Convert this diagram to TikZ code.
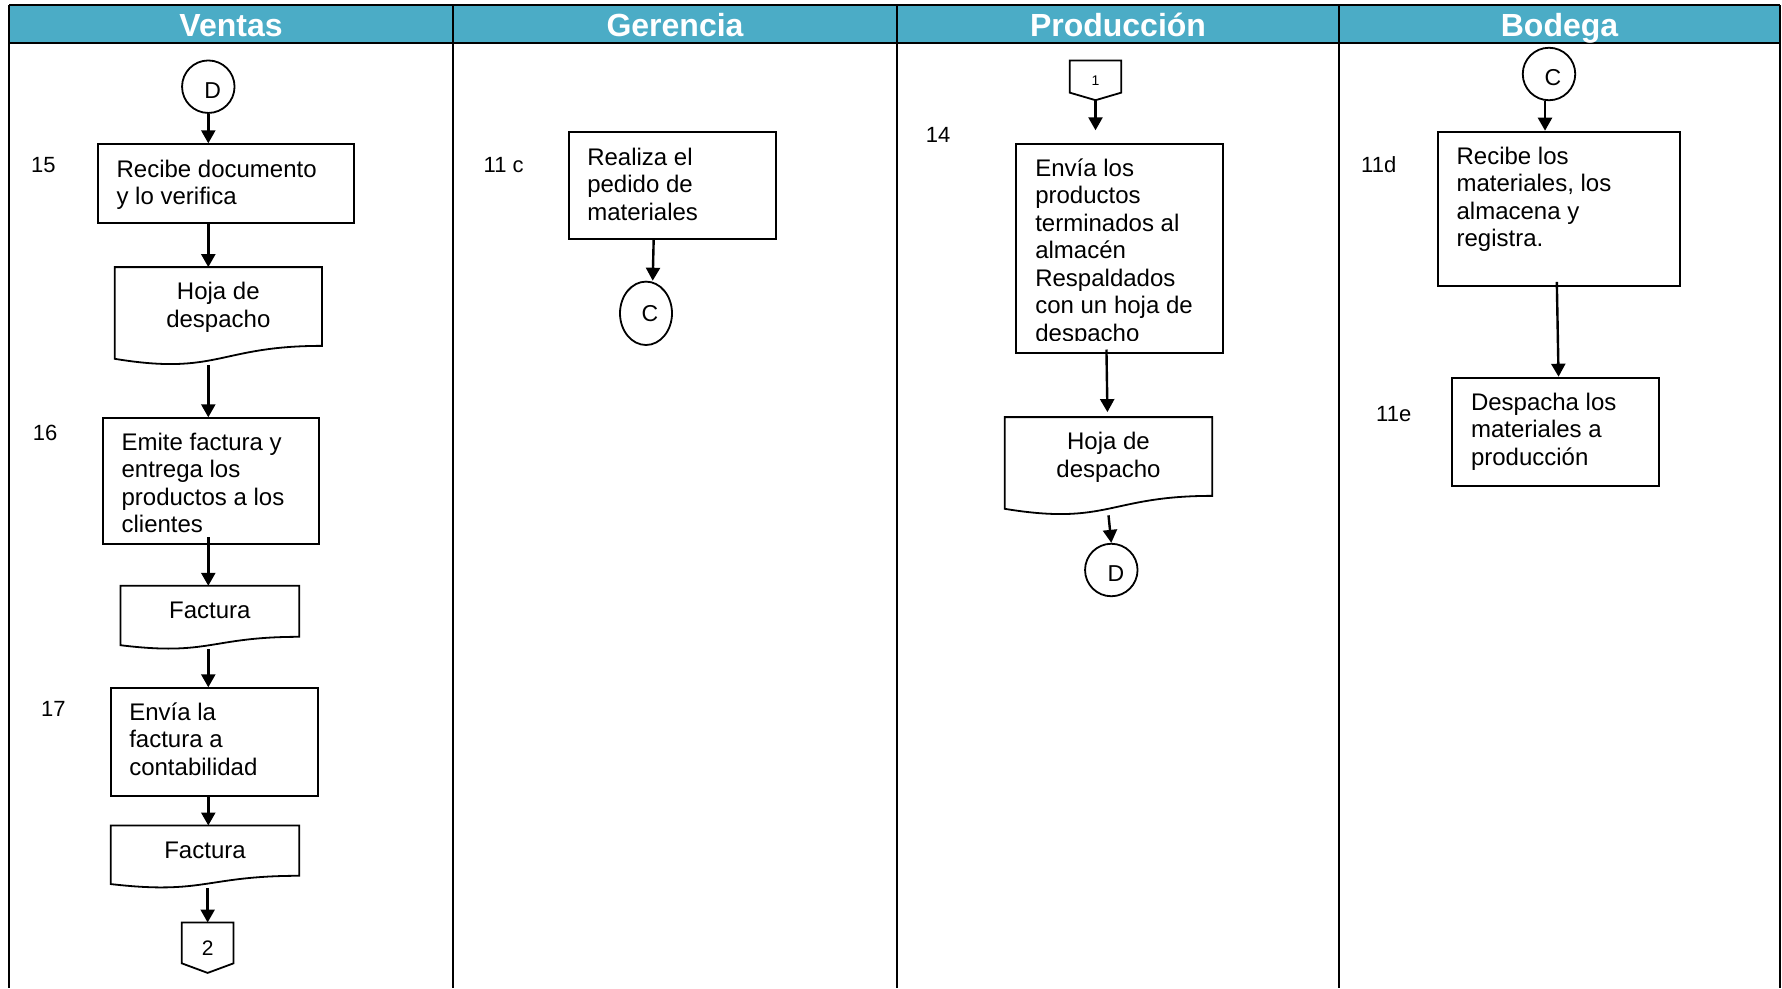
\documentclass[tikz,border=0pt]{standalone}
\usepackage{fontspec}
\setmainfont{Liberation Sans}
\usetikzlibrary{arrows.meta,shapes.geometric,calc}

\definecolor{headteal}{RGB}{75,172,198}

% type sizes (1pt = 1 output pixel)
\newcommand\txtbody{\fontsize{24}{27.5}\selectfont}
\newcommand\txtlabel{\fontsize{22}{25}\selectfont}
\newcommand\txthead{\fontsize{32}{36}\selectfont\bfseries}
\newcommand\txtconn{\fontsize{23}{26}\selectfont}

% multi-line text whose baseline is the first line
\newcommand\lefttab[1]{\begin{tabular}[t]{@{}l@{}}#1\end{tabular}}
\newcommand\centtab[1]{\begin{tabular}[t]{@{}c@{}}#1\end{tabular}}

% flowchart "document" symbol drawn round an empty node
\newcommand\docoutline[1]{%
  \draw[shapeline] let \p1=(#1.south west), \p2=(#1.north east) in
    (\x1,\y2) -- (\x2,\y2) -- (\x2,{0.198*\y2+0.802*\y1})
    .. controls ({0.5*\x1+0.5*\x2},{0.198*\y2+0.802*\y1})
            and ({0.5*\x1+0.5*\x2},{1.1075*\y1-0.1075*\y2}) ..
    (\x1,{0.066*\y2+0.934*\y1}) -- cycle;}

% off-page connector (pentagon pointing down)
\newcommand\offpageoutline[1]{%
  \draw[shapeline] let \p1=(#1.south west), \p2=(#1.north east) in
    (\x1,\y2) -- (\x2,\y2) -- (\x2,{0.19*\y2+0.81*\y1})
    -- ({0.5*\x1+0.5*\x2},\y1) -- (\x1,{0.19*\y2+0.81*\y1}) -- cycle;}

\begin{document}
\begin{tikzpicture}[x=1pt,y=-1pt,
  lane/.style={line width=2.3pt,black},
  shapeline/.style={draw=black,line width=1.8pt},
  procbox/.style={shapeline,rectangle,inner sep=0pt,anchor=north west},
  docnode/.style={rectangle,inner sep=0pt},
  offnode/.style={rectangle,inner sep=0pt},
  conn/.style={shapeline,circle,inner sep=0pt,minimum size=52.5pt,font=\txtconn,
               text height=23pt,text depth=0pt},
  arr/.style={line width=2.4pt,-{Triangle[length=13pt,width=14pt]}},
  boxtext/.style={inner sep=0pt,anchor=base west,font=\txtbody},
  doctext/.style={inner sep=0pt,anchor=base,font=\txtbody},
  steplabel/.style={inner sep=0pt,anchor=base west,font=\txtlabel},
  headtext/.style={inner sep=0pt,anchor=base,font=\txthead,text=white}]

\useasboundingbox (0,0) rectangle (1782,988);

% ---------- swimlanes ----------
\fill[headteal] (9,5) rectangle (1780,43);
\draw[lane] (9,5) -- (1780,5);
\draw[lane] (9,43) -- (1780,43);
\foreach \lx in {9,453,897,1339,1780} \draw[lane] (\lx,5) -- (\lx,988);

\node[headtext] (hV) at (231,36.5)    {Ventas};
\node[headtext] (hG) at (675,36.5)    {Gerencia};
\node[headtext] (hP) at (1118,36.5)   {Producción};
\node[headtext] (hB) at (1559.5,36.5) {Bodega};

% ---------- Ventas ----------
\node[conn] (dV) at (208.3,86.7) {\hspace*{9pt}D};

\node[steplabel] (n15) at (31,172.7) {15};
\node[procbox,minimum width=256.6,minimum height=78.4] (b15) at (96.7,143.3) {};
\node[boxtext] (t15) at ([shift={(19.7,33.8)}]b15.north west)
  {\lefttab{Recibe documento\\y lo verifica}};

\node[docnode,minimum width=206.7,minimum height=97.8] (vh) at (218.35,316.2) {};
\docoutline{vh}
\node[doctext] (vhT) at ([yshift=-32.7pt]vh.north) {\centtab{Hoja de\\despacho}};

\node[steplabel] (n16) at (32.6,440) {16};
\node[procbox,minimum width=216.6,minimum height=126] (b16) at (101.7,417.3) {};
\node[boxtext] (t16) at ([shift={(19.7,32.7)}]b16.north west)
  {\lefttab{Emite factura y\\entrega los\\productos a los\\clientes}};

\node[docnode,minimum width=178.3,minimum height=63.2] (vf1) at (209.85,617.6) {};
\docoutline{vf1}
\node[doctext] (vf1T) at ([yshift=-32.3pt]vf1.north) {Factura};

\node[steplabel] (n17) at (40.9,716.7) {17};
\node[procbox,minimum width=207.3,minimum height=108] (b17) at (110,687.3) {};
\node[boxtext] (t17) at ([shift={(19.1,32.7)}]b17.north west)
  {\lefttab{Envía la\\factura a\\contabilidad}};

\node[docnode,minimum width=188,minimum height=62.3] (vf2) at (205,856.85) {};
\docoutline{vf2}
\node[doctext] (vf2T) at ([yshift=-32.6pt]vf2.north) {Factura};

\node[offnode,minimum width=51.3,minimum height=50,font=\fontsize{21}{24}\selectfont]
  (off2) at (207.65,947.7) {2};
\offpageoutline{off2}

\draw[arr] (dV.south) -- (b15.north -| dV);
\draw[arr] (b15.south -| dV) -- (vh.north -| dV);
\draw[arr] (vh.south -| dV) -- (b16.north -| dV);
\draw[arr,shorten <=-8pt] (b16.south -| dV) -- (vf1.north -| dV);
\draw[arr] (vf1.south -| dV) -- (b17.north -| dV);
\draw[arr] (b17.south -| dV) -- (vf2.north -| dV);
\draw[arr] (vf2.south -| off2) -- (off2.north);

% ---------- Gerencia ----------
\node[steplabel] (n11c) at (483.5,172.7) {11 c};
\node[procbox,minimum width=207.3,minimum height=107.3] (g11) at (567.7,131) {};
\node[boxtext] (tg11) at ([shift={(19.4,34)}]g11.north west)
  {\lefttab{Realiza el\\pedido de\\materiales}};

\node[shapeline,ellipse,inner sep=0pt,minimum width=52,minimum height=63.4,font=\txtconn]
  (cG) at (646,313.3) {\hspace*{8pt}C};

\draw[arr] ([xshift=-18.6pt]g11.south) -- ([xshift=6.7pt]cG.north);

% ---------- Producción ----------
\node[offnode,minimum width=51,minimum height=39.3,font=\fontsize{14}{16}\selectfont]
  (off1) at (1095.5,80.35) {1};
\offpageoutline{off1}

\node[steplabel] (n14) at (925.6,142) {14};
\node[procbox,minimum width=206.7,minimum height=208.4] (p14) at (1015,143.3) {};
\begin{scope}
  \clip (1015,143.3) rectangle (1221.7,340.5);
  \node[boxtext] (t14) at ([shift={(20.1,32.7)}]p14.north west)
    {\lefttab{Envía los\\productos\\terminados al\\almacén\\Respaldados\\con un hoja de\\despacho}};
\end{scope}

\node[docnode,minimum width=207,minimum height=97.8] (ph) at (1108.5,466.2) {};
\docoutline{ph}
\node[doctext] (phT) at ([yshift=-32.7pt]ph.north) {\centtab{Hoja de\\despacho}};

\node[conn] (dP) at (1111.3,570) {\hspace*{9pt}D};

\draw[arr,shorten >=13pt] (off1.south) -- (off1.south |- p14.north);
\draw[arr,shorten <=-4pt,shorten >=5pt] ([xshift=-2pt]p14.south -| ph.north) -- ([xshift=-1pt]ph.north);
\draw[arr] (ph.south) -- (dP.north);

% ---------- Bodega ----------
\node[conn] (cB) at (1549,74) {\hspace*{8pt}C};

\node[steplabel] (n11d) at (1361,172.7) {11d};
\node[procbox,minimum width=242.6,minimum height=154.3] (bd) at (1436.7,130.7) {};
\node[boxtext] (tbd) at ([shift={(19.7,33.3)}]bd.north west)
  {\lefttab{Recibe los\\materiales, los\\almacena y\\registra.}};

\node[steplabel] (n11e) at (1376,421.7) {11e};
\node[procbox,minimum width=207.3,minimum height=108.3] (be) at (1451,376.7) {};
\node[boxtext] (tbe) at ([shift={(19.8,33.3)}]be.north west)
  {\lefttab{Despacha los\\materiales a\\producción}};

\draw[arr] ([xshift=-4pt]cB.south) -- ([xshift=-4pt]cB.south |- bd.north);
\draw[arr,shorten <=-5pt] ([xshift=-2pt]bd.south) -- ([xshift=3pt]be.north);

\end{tikzpicture}
\end{document}
